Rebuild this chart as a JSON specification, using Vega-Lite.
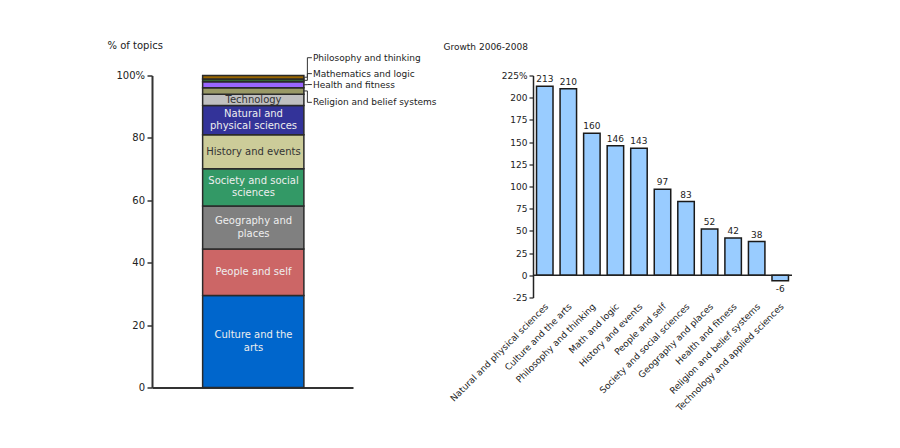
{
  "$schema": "https://vega.github.io/schema/vega-lite/v6.json",
  "background": "white",
  "padding": {"left": 107, "top": 39.5, "right": 5, "bottom": 5},
  "bounds": "flush",
  "spacing": 180,
  "datasets": {
    "topics": [
      {"idx": 1, "topic": "Culture and the arts", "label": "Culture and the\narts", "share": 29.5},
      {"idx": 2, "topic": "People and self", "label": "People and self", "share": 14.9},
      {"idx": 3, "topic": "Geography and places", "label": "Geography and\nplaces", "share": 13.8},
      {"idx": 4, "topic": "Society and social sciences", "label": "Society and social\nsciences", "share": 11.9},
      {"idx": 5, "topic": "History and events", "label": "History and events", "share": 10.9},
      {"idx": 6, "topic": "Natural and physical sciences", "label": "Natural and\nphysical sciences", "share": 9.4},
      {"idx": 7, "topic": "Technology and applied sciences", "label": "Technology", "share": 3.6},
      {"idx": 8, "topic": "Religion and belief systems", "label": "Religion and belief systems", "share": 2.1},
      {"idx": 9, "topic": "Health and fitness", "label": "Health and fitness", "share": 1.9},
      {"idx": 10, "topic": "Mathematics and logic", "label": "Mathematics and logic", "share": 0.9},
      {"idx": 11, "topic": "Philosophy and thinking", "label": "Philosophy and thinking", "share": 1.1}
    ],
    "growth": [
      {"topic": "Natural and physical sciences", "growth": 213},
      {"topic": "Culture and the arts", "growth": 210},
      {"topic": "Philosophy and thinking", "growth": 160},
      {"topic": "Math and logic", "growth": 146},
      {"topic": "History and events", "growth": 143},
      {"topic": "People and self", "growth": 97},
      {"topic": "Society and social sciences", "growth": 83},
      {"topic": "Geography and places", "growth": 52},
      {"topic": "Health and fitness", "growth": 42},
      {"topic": "Religion and belief systems", "growth": 38},
      {"topic": "Technology and applied sciences", "growth": -6}
    ]
  },
  "config": {
    "font": "DejaVu Sans",
    "view": {"stroke": null},
    "axis": {"labelColor": "#222", "titleColor": "#222", "grid": false, "labelFont": "DejaVu Sans", "titleFont": "DejaVu Sans", "labelOverlap": false}
  },
  "hconcat": [
    {
      "width": 201,
      "height": 312,
      "data": {"name": "topics"},
      "transform": [
        {"stack": "share", "groupby": [], "sort": [{"field": "idx", "order": "ascending"}], "as": ["y0", "y1"]},
        {"calculate": "(datum.y0 + datum.y1) / 2", "as": "mid"},
        {"calculate": "datum.topic == 'Philosophy and thinking' ? 105.7 : datum.topic == 'Mathematics and logic' ? 100.6 : datum.topic == 'Health and fitness' ? 97.1 : 91.4", "as": "label_y"}
      ],
      "layer": [
        {
          "mark": {"type": "bar", "stroke": "#2a2a2a", "strokeWidth": 1.5},
          "encoding": {
            "x": {"datum": 1, "type": "quantitative", "scale": {"domain": [0, 3.97], "nice": false, "zero": false},
                  "axis": {"title": null, "labels": false, "ticks": false, "domain": true, "domainColor": "#333", "domainWidth": 2, "grid": false}},
            "x2": {"datum": 3},
            "y": {"field": "y0", "type": "quantitative", "scale": {"domain": [0, 100], "nice": false},
                  "axis": {"values": [0, 20, 40, 60, 80, 100], "tickCount": 10, "labelExpr": "datum.value == 100 ? '100%' : datum.label",
                           "title": "% of topics", "titleAngle": 0, "titleAlign": "left", "titleBaseline": "alphabetic",
                           "titleX": -45, "titleY": -27.4, "titleFontSize": 10, "titleFontWeight": "normal",
                           "labelFontSize": 10, "tickSize": 5, "labelPadding": 2.5, "domainWidth": 2, "domainColor": "#333",
                           "tickColor": "#333", "tickWidth": 1.5, "labelOverlap": false}},
            "y2": {"field": "y1"},
            "color": {"field": "topic", "type": "nominal",
                      "scale": {"domain": ["Culture and the arts", "People and self", "Geography and places", "Society and social sciences", "History and events", "Natural and physical sciences", "Technology and applied sciences", "Religion and belief systems", "Health and fitness", "Mathematics and logic", "Philosophy and thinking"],
                                "range": ["#0066cc", "#cc6666", "#808080", "#339966", "#cccc99", "#333399", "#c0c0c0", "#999966", "#9966ff", "#336633", "#996600"]},
                      "legend": null}
          }
        },
        {
          "transform": [{"filter": "datum.idx == 1 || datum.idx == 3 || datum.idx == 4 || datum.idx == 6"}],
          "mark": {"type": "text", "fontSize": 10, "color": "#eeeeee", "align": "center", "baseline": "middle", "lineBreak": "\n", "lineHeight": 12.3, "dy": -6.2},
          "encoding": {
            "x": {"datum": 2.005, "type": "quantitative"},
            "y": {"field": "mid", "type": "quantitative"},
            "text": {"field": "label"}
          }
        },
        {
          "transform": [{"filter": "datum.idx == 2"}],
          "mark": {"type": "text", "fontSize": 10, "color": "#eeeeee", "align": "center", "baseline": "middle"},
          "encoding": {
            "x": {"datum": 2.005, "type": "quantitative"},
            "y": {"field": "mid", "type": "quantitative"},
            "text": {"field": "label"}
          }
        },
        {
          "transform": [{"filter": "datum.idx == 5 || datum.idx == 7"}],
          "mark": {"type": "text", "fontSize": 10, "color": "#333333", "align": "center", "baseline": "middle"},
          "encoding": {
            "x": {"datum": 2.005, "type": "quantitative"},
            "y": {"field": "mid", "type": "quantitative"},
            "text": {"field": "label"}
          }
        },
        {
          "transform": [{"filter": "datum.idx >= 8"}],
          "mark": {"type": "rule", "color": "#333", "strokeWidth": 1, "xOffset": 3.5},
          "encoding": {
            "x": {"datum": 3, "type": "quantitative"},
            "y": {"field": "mid", "type": "quantitative"},
            "y2": {"field": "label_y"}
          }
        },
        {
          "transform": [{"filter": "datum.idx >= 8"}],
          "mark": {"type": "rule", "color": "#333", "strokeWidth": 1, "x2Offset": 3.5},
          "encoding": {
            "x": {"datum": 3, "type": "quantitative"},
            "x2": {"datum": 3},
            "y": {"field": "mid", "type": "quantitative"}
          }
        },
        {
          "transform": [{"filter": "datum.idx >= 8"}],
          "mark": {"type": "rule", "color": "#333", "strokeWidth": 1, "xOffset": 3.5, "x2Offset": 8},
          "encoding": {
            "x": {"datum": 3, "type": "quantitative"},
            "x2": {"datum": 3},
            "y": {"field": "label_y", "type": "quantitative"}
          }
        },
        {
          "transform": [{"filter": "datum.idx >= 8"}],
          "mark": {"type": "text", "fontSize": 9, "color": "#222", "align": "left", "baseline": "middle", "dx": 9},
          "encoding": {
            "x": {"datum": 3, "type": "quantitative"},
            "y": {"field": "label_y", "type": "quantitative"},
            "text": {"field": "label"}
          }
        }
      ]
    },
    {
      "width": 259,
      "height": 222,
      "data": {"name": "growth"},
      "layer": [
        {
          "mark": {"type": "bar", "fill": "#99ccff", "stroke": "#1a1a1a", "strokeWidth": 1.5},
          "encoding": {
            "x": {"field": "topic", "type": "nominal", "sort": null, "scale": {"paddingInner": 0.3, "paddingOuter": 0.15},
                  "axis": {"title": null, "domain": false, "ticks": false, "tickSize": 0, "labelAngle": -45, "labelAlign": "right",
                           "labelBaseline": "middle", "labelFontSize": 9, "labelPadding": 7, "labelOffset": 2, "labelLimit": 0, "labelOverlap": false}},
            "y": {"field": "growth", "type": "quantitative", "scale": {"domain": [-25, 225], "nice": false},
                  "axis": {"values": [-25, 0, 25, 50, 75, 100, 125, 150, 175, 200, 225], "tickCount": 20,
                           "labelExpr": "datum.value == 225 ? '225%' : '' + datum.value",
                           "title": "Growth 2006-2008", "titleAngle": 0, "titleAlign": "left", "titleBaseline": "alphabetic",
                           "titleX": -90, "titleY": -25.8, "titleFontSize": 9, "titleFontWeight": "normal",
                           "labelFontSize": 9, "tickSize": 4, "labelPadding": 2, "domainWidth": 1.5, "domainColor": "#222",
                           "tickColor": "#222", "tickWidth": 1.2, "labelOverlap": false}}
          }
        },
        {
          "transform": [{"aggregate": [{"op": "count", "as": "n"}]}],
          "mark": {"type": "rule", "color": "#222", "strokeWidth": 1.5},
          "encoding": {"y": {"datum": 0, "type": "quantitative"}}
        },
        {
          "transform": [{"filter": "datum.growth >= 0"}],
          "mark": {"type": "text", "fontSize": 9, "color": "#222", "baseline": "alphabetic", "dy": -4},
          "encoding": {
            "x": {"field": "topic", "type": "nominal", "sort": null},
            "y": {"field": "growth", "type": "quantitative"},
            "text": {"field": "growth", "type": "nominal"}
          }
        },
        {
          "transform": [{"filter": "datum.growth < 0"}],
          "mark": {"type": "text", "fontSize": 9, "color": "#222", "baseline": "alphabetic", "dy": 11.5},
          "encoding": {
            "x": {"field": "topic", "type": "nominal", "sort": null},
            "y": {"field": "growth", "type": "quantitative"},
            "text": {"field": "growth", "type": "nominal"}
          }
        }
      ]
    }
  ]
}
